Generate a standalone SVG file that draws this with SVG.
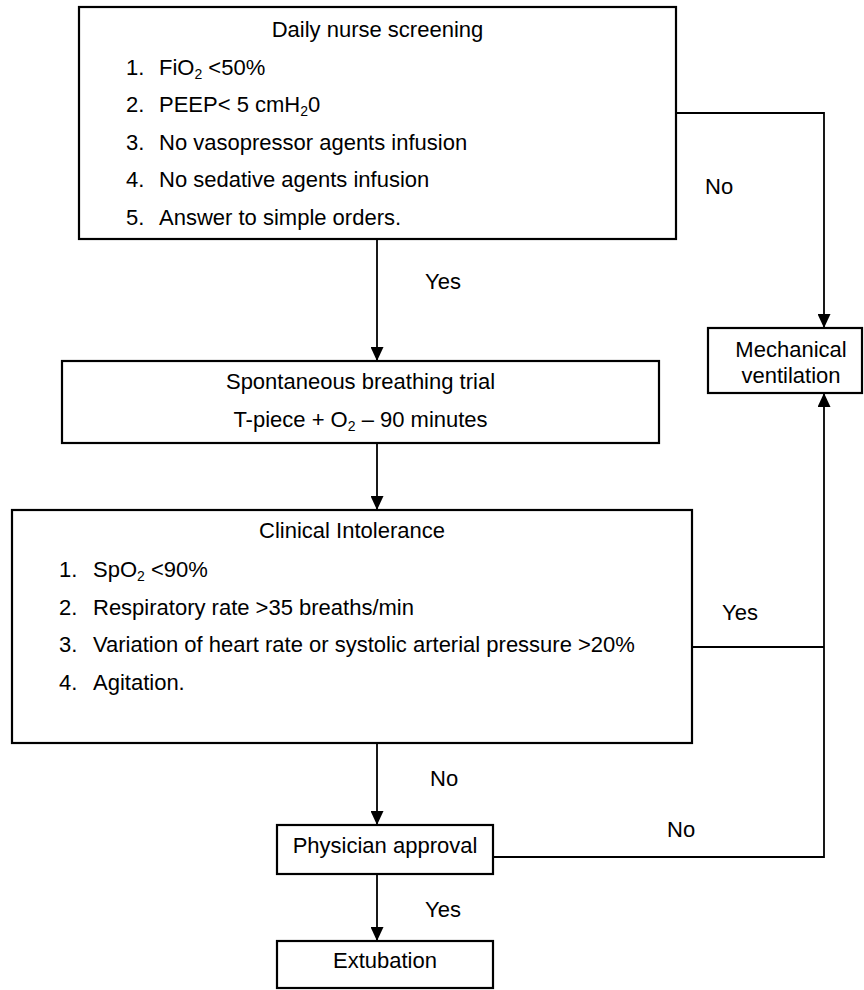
<svg xmlns="http://www.w3.org/2000/svg" width="864" height="990" viewBox="0 0 864 990">
<defs>
<marker id="arrow" viewBox="0 0 14 13" markerWidth="14" markerHeight="13" refX="14" refY="6.5" orient="auto" markerUnits="userSpaceOnUse">
<path d="M0,0 L14,6.5 L0,13 Z" fill="#000"/>
</marker>
<style>
.box{fill:#fff;stroke:#000;stroke-width:2.2}
.line{fill:none;stroke:#000;stroke-width:1.8}
text{font-family:"Liberation Sans",Arial,Helvetica,sans-serif;font-size:22px;fill:#000}
.c{text-anchor:middle}
.sub{font-size:14px}
</style>
</defs>
<rect width="864" height="990" fill="#fff"/>

<g id="connectors">
<path class="line" d="M377,239 V361" marker-end="url(#arrow)"/>
<path class="line" d="M676,113 H824 V328" marker-end="url(#arrow)"/>
<path class="line" d="M377,443 V510" marker-end="url(#arrow)"/>
<path class="line" d="M692,647 H824"/>
<path class="line" d="M493,857 H824 V393" marker-end="url(#arrow)"/>
<path class="line" d="M377,743 V825" marker-end="url(#arrow)"/>
<path class="line" d="M377,874 V941" marker-end="url(#arrow)"/>
<text x="705" y="194">No</text>
<text x="425" y="289">Yes</text>
<text x="722" y="620">Yes</text>
<text x="430" y="786">No</text>
<text x="667" y="837">No</text>
<text x="425" y="917">Yes</text>
</g>

<g id="daily-nurse-screening">
<rect class="box" x="79" y="7" width="597" height="232"/>
<text class="c" x="377.5" y="37">Daily nurse screening</text>
<text x="126" y="75">1.</text><text x="159" y="75">FiO<tspan class="sub" dy="4">2</tspan><tspan dy="-4"> &lt;50%</tspan></text>
<text x="126" y="112">2.</text><text x="159" y="112">PEEP&lt; 5 cmH<tspan class="sub" dy="4">2</tspan><tspan dy="-4">0</tspan></text>
<text x="126" y="150">3.</text><text x="159" y="150">No vasopressor agents infusion</text>
<text x="126" y="187">4.</text><text x="159" y="187">No sedative agents infusion</text>
<text x="126" y="225">5.</text><text x="159" y="225">Answer to simple orders.</text>
</g>

<g id="spontaneous-breathing-trial">
<rect class="box" x="62" y="361" width="597" height="82"/>
<text class="c" x="360.5" y="389">Spontaneous breathing trial</text>
<text class="c" x="360.5" y="427">T-piece + O<tspan class="sub" dy="4">2</tspan><tspan dy="-4"> – 90 minutes</tspan></text>
</g>

<g id="clinical-intolerance">
<rect class="box" x="12" y="510" width="680" height="233"/>
<text class="c" x="352" y="538">Clinical Intolerance</text>
<text x="59" y="577">1.</text><text x="93" y="577">SpO<tspan class="sub" dy="4">2</tspan><tspan dy="-4"> &lt;90%</tspan></text>
<text x="59" y="615">2.</text><text x="93" y="615">Respiratory rate &gt;35 breaths/min</text>
<text x="59" y="652">3.</text><text x="93" y="652">Variation of heart rate or systolic arterial pressure &gt;20%</text>
<text x="59" y="690">4.</text><text x="93" y="690">Agitation.</text>
</g>

<g id="mechanical-ventilation">
<rect class="box" x="708" y="328" width="154" height="65"/>
<text class="c" x="791" y="357">Mechanical</text>
<text class="c" x="791" y="383">ventilation</text>
</g>

<g id="physician-approval">
<rect class="box" x="277" y="825" width="216" height="49"/>
<text class="c" x="385" y="853">Physician approval</text>
</g>

<g id="extubation">
<rect class="box" x="277" y="941" width="216" height="47"/>
<text class="c" x="385" y="968">Extubation</text>
</g>
</svg>
